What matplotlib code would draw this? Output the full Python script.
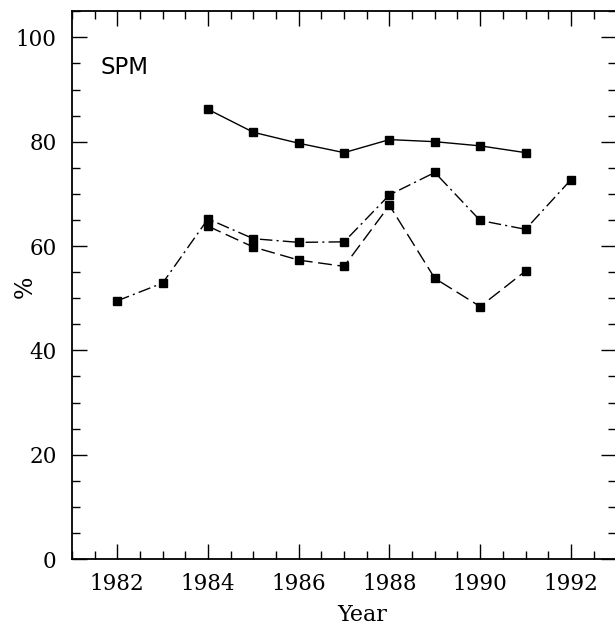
import matplotlib
matplotlib.use("Agg")
import matplotlib.pyplot as plt
from matplotlib.ticker import MultipleLocator

years_solid = [1984, 1985, 1986, 1987, 1988, 1989, 1990, 1991]
solid_vals = [86.2, 81.8, 79.7, 77.9, 80.4, 80.0, 79.2, 77.9]

years_dashdot = [1982, 1983, 1984, 1985, 1986, 1987, 1988, 1989, 1990, 1991, 1992]
dashdot_vals = [49.5, 52.9, 65.2, 61.4, 60.7, 60.8, 69.8, 74.1, 64.9, 63.2, 72.7]

years_dashed = [1984, 1985, 1986, 1987, 1988, 1989, 1990, 1991]
dashed_vals = [63.8, 59.8, 57.3, 56.1, 67.8, 53.8, 48.4, 55.2]

xticks = [1982, 1984, 1986, 1988, 1990, 1992]
yticks = [0, 20, 40, 60, 80, 100]

fig = plt.figure(figsize=(6.15, 6.26), dpi=100)
ax = fig.add_axes([0.117, 0.107, 0.885, 0.875])

mk = dict(marker='s', markersize=6, color='black', markerfacecolor='black', markeredgecolor='black')
ax.plot(years_solid, solid_vals, linestyle='-', linewidth=1.0, **mk)
ax.plot(years_dashdot, dashdot_vals, linestyle=(0, (9, 3, 1.5, 3)), linewidth=1.0, **mk)
ax.plot(years_dashed, dashed_vals, linestyle=(0, (10, 4)), linewidth=1.0, **mk)

ax.set_xlim(1981, 1993)
ax.set_ylim(0, 105)
ax.set_xticks(xticks)
ax.set_yticks(yticks)
ax.xaxis.set_minor_locator(MultipleLocator(0.5))
ax.yaxis.set_minor_locator(MultipleLocator(5))

serif = ['DejaVu Serif']
ax.tick_params(which='both', direction='in', top=True, right=True, width=1.0, colors='black')
ax.tick_params(which='major', length=11, labelsize=15.5)
ax.tick_params(axis='x', which='major', pad=10)
ax.tick_params(axis='y', which='major', pad=11)
ax.tick_params(which='minor', length=6)
for lab in ax.get_xticklabels() + ax.get_yticklabels():
    lab.set_family(serif)

for s in ax.spines.values():
    s.set_linewidth(1.3)

fig.text(362 / 615, 1 - 615 / 626, 'Year', family=serif, fontsize=16, ha='center', va='center')
fig.text(25 / 615, 1 - 287 / 626, '%', family=serif, fontsize=17, ha='center', va='center', rotation=90)

ax.text(0.053, 0.897, 'SPM', transform=ax.transAxes, fontsize=16.5, family='DejaVu Sans',
        fontweight='medium', color='black', va='center')

fig.savefig('out.png', dpi=100)
